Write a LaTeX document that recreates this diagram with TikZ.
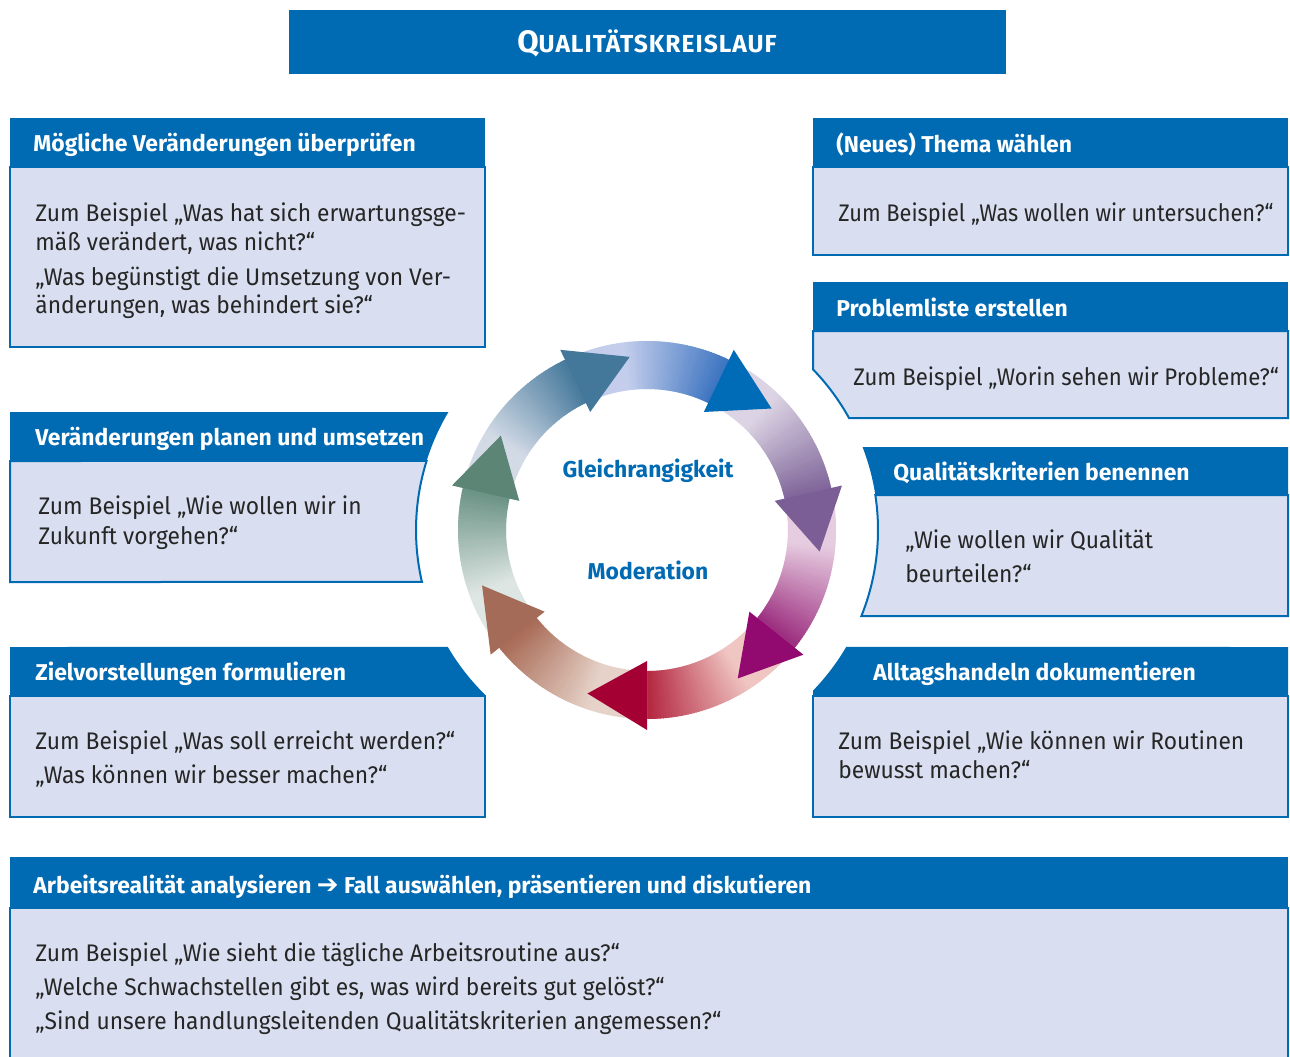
\documentclass[tikz,border=0pt]{standalone}
\usepackage{fontspec}
\setmainfont{Fira Sans}
\newfontfamily\bodyfont[FakeStretch=0.95]{Fira Sans}
\newfontfamily\bodyfontA[FakeStretch=0.908]{Fira Sans}
\newfontfamily\bodyfontB[FakeStretch=0.924]{Fira Sans}
\newfontfamily\arrowfont{DejaVu Sans}
\usetikzlibrary{calc}
\definecolor{qblue}{HTML}{006AB3}
\definecolor{qbody}{HTML}{D9DFF0}
\definecolor{qtext}{HTML}{262626}
% ring colours: light / dark / head
\definecolor{crL}{HTML}{F0C6C2}\definecolor{crD}{HTML}{B3253F}\definecolor{crH}{HTML}{A50034}
\definecolor{maL}{HTML}{E6CCE0}\definecolor{maD}{HTML}{9B2C7E}\definecolor{maH}{HTML}{920A6F}
\definecolor{puL}{HTML}{DCD4E4}\definecolor{puD}{HTML}{7F6599}\definecolor{puH}{HTML}{7C5E96}
\definecolor{blL}{HTML}{C4CEEC}\definecolor{blD}{HTML}{3C74C0}\definecolor{blH}{HTML}{006BB6}
\definecolor{stL}{HTML}{D2DAE6}\definecolor{stD}{HTML}{477A9C}\definecolor{stH}{HTML}{43789A}
\definecolor{grL}{HTML}{DDE6E2}\definecolor{grD}{HTML}{6A9285}\definecolor{grH}{HTML}{5C8575}
\definecolor{brL}{HTML}{E6D2C8}\definecolor{brD}{HTML}{A86A55}\definecolor{brH}{HTML}{A46C58}
\begin{document}
\begin{tikzpicture}[x=0.5pt,y=0.5pt,
  hdr/.style={fill=qblue},
  bodybox/.style={fill=qbody,draw=qblue,line width=1pt},
  htext/.style={anchor=base west,inner sep=0,text=white,font=\fontsize{11.45}{13}\selectfont\bfseries},
  btext/.style={anchor=base west,inner sep=0,text=qtext,font=\bodyfont\fontsize{12}{14}\selectfont},
  ctext/.style={anchor=base,inner sep=0,text=qblue,font=\fontsize{11.45}{13}\selectfont\bfseries},
]
\clip (0,0) rectangle (1290,-1056);
\fill[white] (0,0) rectangle (1290,-1056);
\coordinate (C) at (647,-530);

% title
\fill[hdr] (289,-10) rectangle (1006,-74);
\node[anchor=base,inner sep=0,text=white,font=\bfseries] (title) at (647,-52)
  {\addfontfeature{LetterSpace=4}\fontsize{15.5}{17}\selectfont Q\fontsize{12.3}{14}\selectfont UALITÄTSKREISLAUF};

% ---------- ring ----------
\begin{scope}[shift={(C)}]
\foreach \b/\lc/\dc in {-90/crL/crD, -38.5714/maL/maD, 12.8571/puL/puD, 64.2857/blL/blD,
    115.7143/stL/stD, 167.1429/grL/grD, 218.5714/brL/brD}{
  \foreach \i in {0,...,59}{
    \pgfmathsetmacro\aa{\b+51.4286-\i*0.857143}
    \pgfmathsetmacro\ab{\aa-1.25}
    \pgfmathtruncatemacro\p{max(0,min(100,((\i+0.5)/60-0.35)/0.65*100))}
    \fill[\dc!\p!\lc] (\aa:141) arc[start angle=\aa,end angle=\ab,radius=141]
      -- (\ab:189) arc[start angle=\ab,end angle=\aa,radius=189] -- cycle;
  }
}
\foreach \b/\hc in {-90/crH, -38.5714/maH, 12.8571/puH, 64.2857/blH,
    115.7143/stH, 167.1429/grH, 218.5714/brH}{
  \fill[\hc] (\b:131) -- (\b:200) -- ({\b-20}:174) -- cycle;
}
\end{scope}
\node[ctext] (gleich) at (648,-477) {Gleichrangigkeit};
\node[ctext] (moder) at (648,-579) {Moderation};

% ---------- left column ----------
% L1
\path[bodybox] (10,-167) rectangle (485,-347);
\fill[hdr] (10,-118) rectangle (485,-167);
\node[htext] (l1h) at (33,-151) {Mögliche Veränderungen überprüfen};
\node[btext] (l1a) at (35,-221) {Zum Beispiel „Was hat sich erwartungsge-};
\node[btext] (l1b) at (35,-250) {mäß verändert, was nicht?“};
\node[btext] (l1c) at (35,-285) {„Was begünstigt die Umsetzung von Ver-};
\node[btext] (l1d) at (35,-313) {änderungen, was behindert sie?“};

% L2
\path[bodybox] (10,-461) -- ($(C)+(162.6:231)$) arc[start angle=162.6,end angle=193,radius=231]
  -- (10,-582) -- cycle;
\fill[hdr] (10,-412) -- ($(C)+(149.3:231)$) arc[start angle=149.3,end angle=162.6,radius=231]
  -- (10,-461) -- cycle;
\node[htext] (l2h) at (35,-445) {Veränderungen planen und umsetzen};
\node[btext] (l2a) at (38,-514) {Zum Beispiel „Wie wollen wir in};
\node[btext] (l2b) at (38,-544) {Zukunft vorgehen?“};

% L3
\path[bodybox] (10,-696) rectangle (485,-817);
\fill[hdr] (10,-647) -- ($(C)+(210.4:231)$) arc[start angle=210.4,end angle=225.5,radius=231]
  -- (485,-696) -- (10,-696) -- cycle;
\node[htext] (l3h) at (35,-680) {Zielvorstellungen formulieren};
\node[btext] (l3a) at (35,-749) {Zum Beispiel „Was soll erreicht werden?“};
\node[btext] (l3b) at (35,-783) {„Was können wir besser machen?“};

% ---------- right column ----------
% R1
\path[bodybox] (813,-167) rectangle (1288,-255);
\fill[hdr] (813,-118) rectangle (1288,-167);
\node[htext] (r1h) at (836,-152) {(Neues) Thema wählen};
\node[btext,font=\bodyfontA\fontsize{12}{14}\selectfont] (r1a) at (838,-221) {Zum Beispiel „Was wollen wir untersuchen?“};

% R2
\path[bodybox] (813,-331) -- ($(C)+(44.05:231)$) arc[start angle=44.05,end angle=29.0,radius=231]
  -- (1288,-418) -- (1288,-331) -- cycle;
\fill[hdr] (813,-282) rectangle (1288,-331);
\node[htext] (r2h) at (836,-316) {Problemliste erstellen};
\node[btext,font=\bodyfontB\fontsize{12}{14}\selectfont] (r2a) at (853,-385) {Zum Beispiel „Worin sehen wir Probleme?“};

% R3
\path[bodybox] ($(C)+(8.71:231)$) -- (1288,-495) -- (1288,-616)
  -- ($(C)+(-21.86:231)$) arc[start angle=-21.86,end angle=8.71,radius=231] -- cycle;
\fill[hdr] ($(C)+(21.06:231)$) -- (1288,-447) -- (1288,-495)
  -- ($(C)+(8.71:231)$) arc[start angle=8.71,end angle=21.06,radius=231] -- cycle;
\node[htext] (r3h) at (893,-480) {Qualitätskriterien benennen};
\node[btext] (r3a) at (905,-548) {„Wie wollen wir Qualität};
\node[btext] (r3b) at (905,-582) {beurteilen?“};

% R4
\path[bodybox] (813,-696) rectangle (1288,-817);
\fill[hdr] ($(C)+(-30.4:231)$) -- (1288,-647) -- (1288,-696) -- (813,-696)
  -- ($(C)+(-44.05:231)$) arc[start angle=-44.05,end angle=-30.4,radius=231] -- cycle;
\node[htext] (r4h) at (873,-680) {Alltagshandeln dokumentieren};
\node[btext] (r4a) at (838,-749) {Zum Beispiel „Wie können wir Routinen};
\node[btext] (r4b) at (838,-778) {bewusst machen?“};

% ---------- bottom ----------
\path[bodybox] (10,-908) rectangle (1288,-1080);
\fill[hdr] (10,-857) rectangle (1288,-908);
\node[htext] (bh) at (33,-893) {Arbeitsrealität analysieren {\arrowfont\bfseries\fontsize{13}{13}\selectfont ➔} Fall auswählen, präsentieren und diskutieren};
\node[btext] (ba) at (35,-961) {Zum Beispiel „Wie sieht die tägliche Arbeitsroutine aus?“};
\node[btext] (bb) at (35,-995) {„Welche Schwachstellen gibt es, was wird bereits gut gelöst?“};
\node[btext] (bc) at (35,-1029) {„Sind unsere handlungsleitenden Qualitätskriterien angemessen?“};
\end{tikzpicture}
\end{document}
